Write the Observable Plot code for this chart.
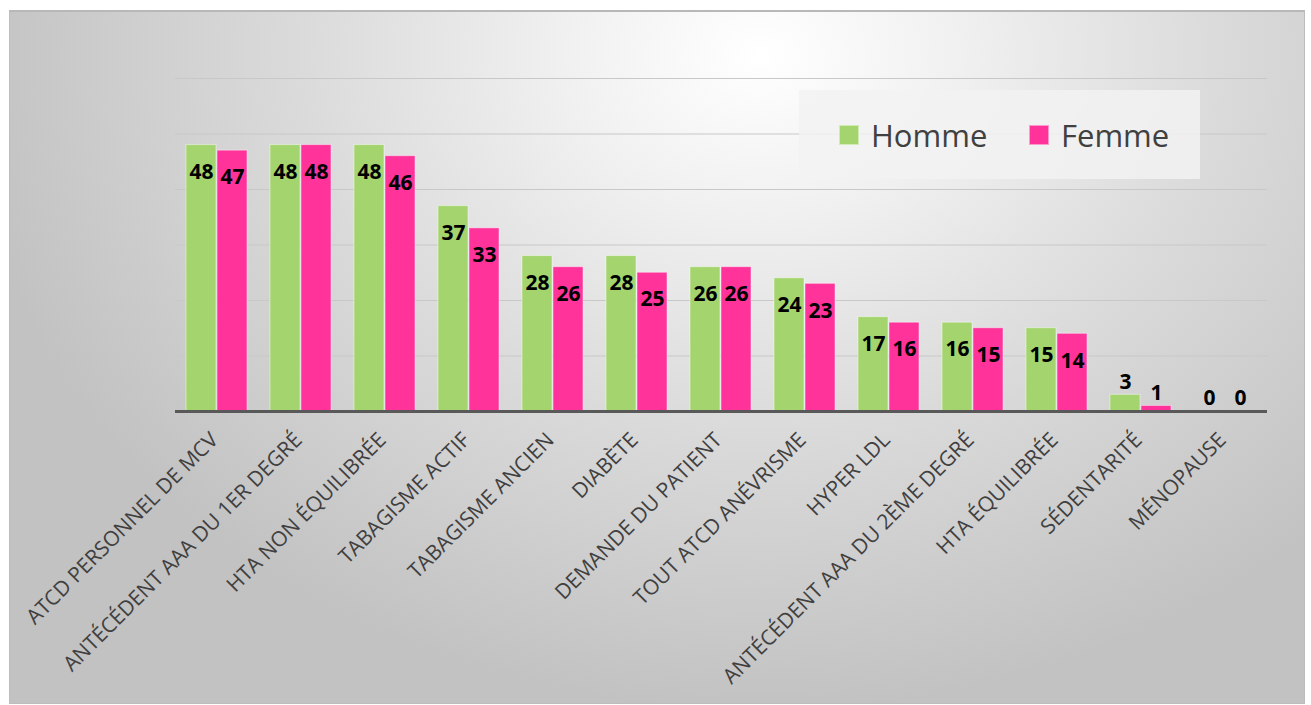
<!DOCTYPE html>
<html>
<head>
<meta charset="utf-8">
<script src="https://cdn.jsdelivr.net/npm/d3@7"></script>
<script src="https://cdn.jsdelivr.net/npm/@observablehq/plot@0.6"></script>
<style>
  html, body { margin:0; padding:0; background:#ffffff; }
  #frame { position:absolute; left:9px; top:10px; width:1294px; height:691px;
    border:1px solid #bdbdbd; border-top:2px solid #b8b8b8;
    background: radial-gradient(ellipse 62% 95% at 58% 6%, #ffffff 0%, #f0f0f0 25%, #dadada 58%, #c2c2c2 100%); }
  #chart { position:absolute; left:0; top:0; }
  #legend { position:absolute; left:799px; top:90px; width:401px; height:89px;
    background: rgba(242,242,242,0.85); font-family:"Open Sans", sans-serif; color:#404040; font-size:31px; }
  .item { position:absolute; top:0; height:89px; display:flex; align-items:center; }
  .sw { width:20px; height:20px; margin-right:12px; box-sizing:border-box; border:1px solid rgba(255,255,255,0.5); }
</style>
</head>
<body>
<div id="frame"></div>
<div id="chart"></div>
<div id="legend">
  <div class="item" style="left:40px"><div class="sw" style="background:#a3d46d"></div><span>Homme</span></div>
  <div class="item" style="left:230px"><div class="sw" style="background:#ff3399"></div><span>Femme</span></div>
</div>
<script>
const categories = [
  "ATCD PERSONNEL DE MCV",
  "ANTÉCÉDENT AAA DU 1ER DEGRÉ",
  "HTA NON ÉQUILIBRÉE",
  "TABAGISME ACTIF",
  "TABAGISME ANCIEN",
  "DIABÈTE",
  "DEMANDE DU PATIENT",
  "TOUT ATCD ANÉVRISME",
  "HYPER LDL",
  "ANTÉCÉDENT AAA DU 2ÈME DEGRÉ",
  "HTA ÉQUILIBRÉE",
  "SÉDENTARITÉ",
  "MÉNOPAUSE"
];
const series = ["Homme", "Femme"];
const homme = [48, 48, 48, 37, 28, 28, 26, 24, 17, 16, 15, 3, 0];
const femme = [47, 48, 46, 33, 26, 25, 26, 23, 16, 15, 14, 1, 0];
const gridTicks = [10, 20, 30, 40, 50, 60];
const colors = ["#a3d46d", "#ff3399"];

const data = [];
categories.forEach((c, i) => {
  data.push({cat: c, sex: "Homme", value: homme[i]});
  data.push({cat: c, sex: "Femme", value: femme[i]});
});

const labelStyle = {fontSize: 21, fontWeight: "bold", fill: "#000", fontFamily: "Open Sans"};

const chart = Plot.plot({
  width: 1311,
  height: 705,
  marginLeft: 173,
  marginRight: 43,
  marginTop: 78,
  marginBottom: 294,
  style: {background: "transparent", fontFamily: "Open Sans"},
  fx: {domain: categories, padding: 0, label: null, axis: null},
  x: {domain: series, paddingInner: 0.03, paddingOuter: 0.33, axis: null},
  y: {domain: [0, 60], axis: null},
  color: {domain: series, range: colors},
  marks: [
    Plot.ruleY(gridTicks, {stroke: "#c8c8c8", strokeWidth: 1}),
    Plot.barY(data, {fx: "cat", x: "sex", y: "value", fill: "sex", stroke: "#ffffff", strokeOpacity: 0.45, strokeWidth: 1}),
    Plot.ruleY([0], {stroke: "#595959", strokeWidth: 3}),
    Plot.text(data.filter(d => d.value >= 5), {fx: "cat", x: "sex", y: "value", text: d => String(d.value), dy: 27, ...labelStyle}),
    Plot.text(data.filter(d => d.value < 5), {fx: "cat", x: "sex", y: "value", text: d => String(d.value), dy: -13, ...labelStyle}),
    Plot.axisFx({anchor: "bottom", tickRotate: -45, tickSize: 0, tickPadding: 25, fontSize: 21, fill: "#404040", label: null, dx: -3})
  ]
});
document.getElementById("chart").appendChild(chart);
</script>
</body>
</html>
